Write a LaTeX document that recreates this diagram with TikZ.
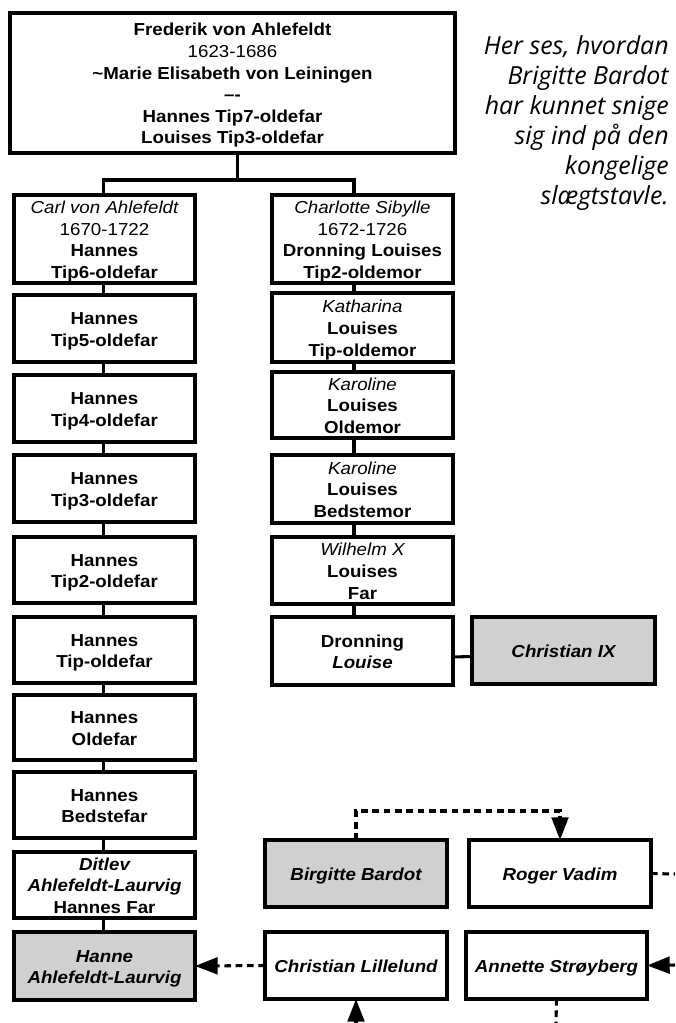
\documentclass[tikz,border=0pt]{standalone}
\usepackage{fontspec}
\setmainfont{Liberation Sans}[FakeStretch=1.08]
\newfontfamily\sidefont{Open Sans}
\usetikzlibrary{arrows.meta}
\definecolor{boxgray}{RGB}{208,208,208}
\tikzset{
 box/.style={draw, line width=2.3pt, inner sep=0pt, outer sep=0pt, font=\fontsize{13}{16.2}\selectfont\bfseries, fill=white},
 grey/.style={fill=boxgray},
 conn/.style={line width=2.3pt},
 dconn/.style={line width=2.3pt, dash pattern=on 5pt off 3.5pt},
 tip/.style={-{Triangle[length=17pt,width=12.5pt]}},
}
\newcommand{\bx}[7][]{\node[box,#1,minimum width={(#5-#3)*0.75pt},minimum height={(#6-#4)*0.75pt}] (#2) at ({(#3+#5)/2},{(#4+#6)/2}) {\raisebox{-2pt}[\height][\depth]{\begin{tabular}{@{}c@{}}#7\end{tabular}}};}
\begin{document}
\begin{tikzpicture}[x=0.75pt,y=-0.75pt]
\useasboundingbox (0,0) rectangle (675,1023);
% top
\bx{top}{10}{13}{455}{153}{Frederik von Ahlefeldt\\{\mdseries 1623-1686}\\\textasciitilde Marie Elisabeth von Leiningen\\\textendash-\\Hannes Tip7-oldefar\\Louises Tip3-oldefar}
% left column
\bx{carl}{14}{195}{195}{283}{{\mdseries\itshape Carl von Ahlefeldt}\\{\mdseries 1670-1722}\\Hannes\\Tip6-oldefar}
\bx{t5}{14}{295}{195}{362}{Hannes\\Tip5-oldefar}
\bx{t4}{14}{375}{195}{442}{Hannes\\Tip4-oldefar}
\bx{t3}{14}{455}{195}{522}{Hannes\\Tip3-oldefar}
\bx{t2}{14}{537}{195}{603}{Hannes\\Tip2-oldefar}
\bx{t1}{14}{617}{195}{683}{Hannes\\Tip-oldefar}
\bx{old}{14}{695}{195}{760}{Hannes\\Oldefar}
\bx{bed}{14}{772}{195}{838}{Hannes\\Bedstefar}
\bx{dit}{14}{852}{195}{918}{{\itshape Ditlev}\\{\itshape Ahlefeldt-Laurvig}\\Hannes Far}
\bx[grey]{hanne}{14}{932}{195}{1000}{{\itshape Hanne}\\{\itshape Ahlefeldt-Laurvig}}
% right column
\bx{charl}{272}{195}{453}{283}{{\mdseries\itshape Charlotte Sibylle}\\{\mdseries 1672-1726}\\Dronning Louises\\Tip2-oldemor}
\bx{kat}{272}{293}{453}{362}{{\mdseries\itshape Katharina}\\Louises\\Tip-oldemor}
\bx{kar1}{272}{372}{453}{438}{{\mdseries\itshape Karoline}\\Louises\\Oldemor}
\bx{kar2}{272}{455}{453}{523}{{\mdseries\itshape Karoline}\\Louises\\Bedstemor}
\bx{wil}{272}{537}{453}{604}{{\mdseries\itshape Wilhelm X}\\Louises\\Far}
\bx{lou}{272}{617}{453}{685}{Dronning\\{\itshape Louise}}
\bx[grey]{c9}{472}{617}{655}{684}{{\itshape Christian IX}}
% bottom
\bx[grey]{bb}{265}{840}{447}{907}{{\itshape Birgitte Bardot}}
\bx{rv}{469}{840}{651}{907}{{\itshape Roger Vadim}}
\bx{cl}{265}{932}{447}{999}{{\itshape Christian Lillelund}}
\bx{as}{466}{932}{647}{999}{{\itshape Annette Str\o yberg}}
% side text
\node[anchor=north east, align=right, inner sep=0pt, font=\sidefont\itshape\fontsize{18.7}{22.6}\selectfont] (side) at (669,35) {Her ses, hvordan\\Brigitte Bardot\\har kunnet snige\\sig ind på den\\kongelige\\slægtstavle.};
% connectors
\draw[conn] ([xshift=4pt]top.south) -- ++(0,27) coordinate (j);
\draw[conn] ([xshift=-1pt]carl.north) |- (j) -| ([xshift=-6.4pt]charl.north);
\foreach \a/\b in {carl/t5,t5/t4,t4/t3,t3/t2,t2/t1,t1/old,old/bed,bed/dit,dit/hanne}
  \draw[conn] ([xshift=-1pt]\a.south) -- ([xshift=-1pt]\b.north);
\foreach \a/\b in {charl/kat,kat/kar1,kar1/kar2,kar2/wil,wil/lou}
  \draw[conn] ([xshift=-6.4pt]\a.south) -- ([xshift=-6.4pt]\b.north);
\draw[conn] ([yshift=-4.5pt]lou.east) -- ([yshift=-4.5pt]c9.west);
% dashed connectors
\coordinate (rvout) at (675,874);
\coordinate (asin) at (675,965);
\coordinate (asout) at (556,1023);
\coordinate (clin) at (356,1023);
\draw[dconn,tip] (bb.north) -- ++(0,-29) -| (rv.north);
\draw[dconn] (rv.east) -- (rvout);
\draw[dconn,tip] (asin) -- (as.east);
\draw[dconn] (as.south) -- (asout);
\draw[dconn,tip] (clin) -- (cl.south);
\draw[dconn,tip] (cl.west) -- (hanne.east);
\end{tikzpicture}
\end{document}
